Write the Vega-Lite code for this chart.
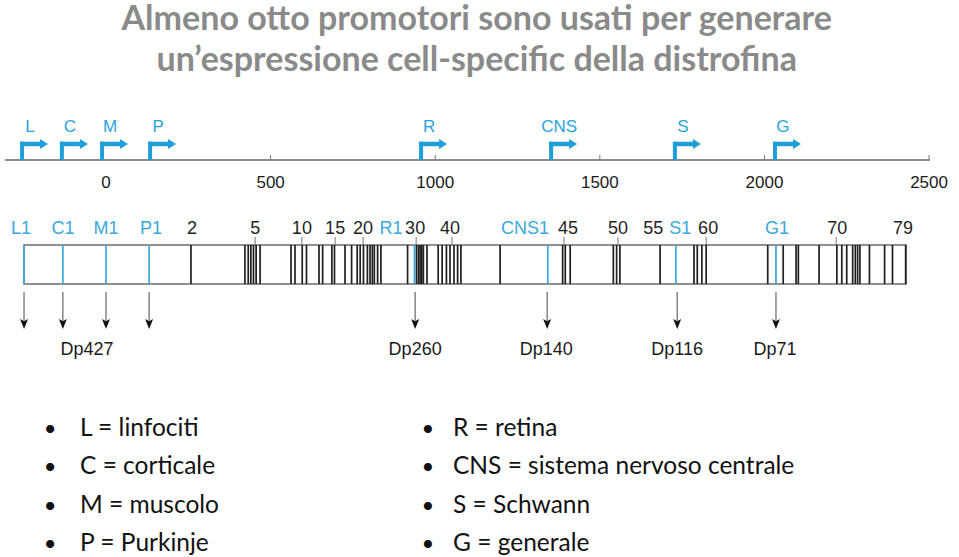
{
  "$schema": "https://vega.github.io/schema/vega-lite/v6.json",
  "width": 959,
  "height": 557,
  "autosize": {"type": "fit", "contains": "padding"},
  "padding": 0,
  "background": "white",
  "config": {"view": {"stroke": null}},
  "layer": [
    {
      "data": {"values": [{"t": "Almeno otto promotori sono usati per generare"}]},
      "mark": {"type": "text", "font": "Lato", "fontWeight": "bold", "fontSize": 34, "color": "#8a8a8a", "align": "center", "baseline": "alphabetic"},
      "encoding": {
        "x": {"datum": 1126, "type": "quantitative", "scale": {"domain": [-322, 2591], "nice": false, "zero": false}, "axis": null},
        "y": {"datum": 5.3, "type": "quantitative", "scale": {"domain": [0, 100], "reverse": true, "nice": false, "zero": false}, "axis": null},
        "text": {"field": "t"}
      }
    },
    {
      "data": {"values": [{"t": "un’espressione cell-specific della distrofina"}]},
      "mark": {"type": "text", "font": "Lato", "fontWeight": "bold", "fontSize": 34, "color": "#8a8a8a", "align": "center", "baseline": "alphabetic"},
      "encoding": {
        "x": {"datum": 1126, "type": "quantitative", "scale": {"domain": [-322, 2591], "nice": false, "zero": false}, "axis": null},
        "y": {"datum": 12.75, "type": "quantitative", "scale": {"domain": [0, 100], "reverse": true, "nice": false, "zero": false}, "axis": null},
        "text": {"field": "t"}
      }
    },
    {
      "data": {"values": [{"start": -307, "end": 2503}]},
      "mark": {"type": "rule", "color": "#666666", "strokeWidth": 1.5},
      "encoding": {
        "x": {"field": "start", "type": "quantitative", "scale": {"domain": [-322, 2591], "nice": false, "zero": false}, "axis": null},
        "x2": {"field": "end"},
        "y": {"datum": 28.72, "type": "quantitative", "scale": {"domain": [0, 100], "reverse": true, "nice": false, "zero": false}, "axis": null}
      }
    },
    {
      "data": {"values": [{"v": 500}, {"v": 1000}, {"v": 1500}, {"v": 2000}, {"v": 2500}]},
      "mark": {"type": "rule", "color": "#777777", "strokeWidth": 1},
      "encoding": {
        "x": {"field": "v", "type": "quantitative", "scale": {"domain": [-322, 2591], "nice": false, "zero": false}, "axis": null},
        "y": {"datum": 27.83, "type": "quantitative", "scale": {"domain": [0, 100], "reverse": true, "nice": false, "zero": false}, "axis": null},
        "y2": {"datum": 28.72}
      }
    },
    {
      "data": {"values": [{"v": 0}, {"v": 500}, {"v": 1000}, {"v": 1500}, {"v": 2000}, {"v": 2500}]},
      "mark": {"type": "text", "font": "Liberation Sans", "fontSize": 17, "color": "#1a1a1a", "align": "center", "baseline": "alphabetic"},
      "encoding": {
        "x": {"field": "v", "type": "quantitative", "scale": {"domain": [-322, 2591], "nice": false, "zero": false}, "axis": null},
        "y": {"datum": 33.75, "type": "quantitative", "scale": {"domain": [0, 100], "reverse": true, "nice": false, "zero": false}, "axis": null},
        "text": {"field": "v", "type": "quantitative", "format": "d"}
      }
    },
    {
      "data": {"values": [{"p": "L", "pos": -255}, {"p": "C", "pos": -134}, {"p": "M", "pos": -12}, {"p": "P", "pos": 134}, {"p": "R", "pos": 957}, {"p": "CNS", "pos": 1352}, {"p": "S", "pos": 1728}, {"p": "G", "pos": 2032}]},
      "layer": [
        {
          "mark": {"type": "rule", "color": "#1e9fd9", "strokeWidth": 4},
          "encoding": {
            "x": {"field": "pos", "type": "quantitative", "scale": {"domain": [-322, 2591], "nice": false, "zero": false}, "axis": null},
            "y": {"datum": 25.45, "type": "quantitative", "scale": {"domain": [0, 100], "reverse": true, "nice": false, "zero": false}, "axis": null},
            "y2": {"datum": 28.72}
          }
        },
        {
          "mark": {"type": "rule", "color": "#1e9fd9", "strokeWidth": 4.5, "xOffset": -2, "x2Offset": 19},
          "encoding": {
            "x": {"field": "pos", "type": "quantitative", "scale": {"domain": [-322, 2591], "nice": false, "zero": false}, "axis": null},
            "x2": {"field": "pos"},
            "y": {"datum": 25.85, "type": "quantitative", "scale": {"domain": [0, 100], "reverse": true, "nice": false, "zero": false}, "axis": null}
          }
        },
        {
          "mark": {"type": "point", "shape": "M-0.8,-1L0.8,0L-0.8,1Z", "filled": true, "color": "#1e9fd9", "opacity": 1, "size": 100, "xOffset": 22, "strokeWidth": 0},
          "encoding": {
            "x": {"field": "pos", "type": "quantitative", "scale": {"domain": [-322, 2591], "nice": false, "zero": false}, "axis": null},
            "y": {"datum": 25.85, "type": "quantitative", "scale": {"domain": [0, 100], "reverse": true, "nice": false, "zero": false}, "axis": null}
          }
        },
        {
          "mark": {"type": "text", "font": "Liberation Sans", "fontSize": 17, "color": "#29a3dc", "align": "center", "baseline": "alphabetic", "xOffset": 8},
          "encoding": {
            "x": {"field": "pos", "type": "quantitative", "scale": {"domain": [-322, 2591], "nice": false, "zero": false}, "axis": null},
            "y": {"datum": 23.7, "type": "quantitative", "scale": {"domain": [0, 100], "reverse": true, "nice": false, "zero": false}, "axis": null},
            "text": {"field": "p"}
          }
        }
      ]
    },
    {
      "data": {"values": [{"v": 453}, {"v": 595}, {"v": 696}, {"v": 781}, {"v": 942}, {"v": 1051}, {"v": 1391}, {"v": 1555}, {"v": 1823}, {"v": 2218}]},
      "mark": {"type": "rule", "color": "#777777", "strokeWidth": 1},
      "encoding": {
        "x": {"field": "v", "type": "quantitative", "scale": {"domain": [-322, 2591], "nice": false, "zero": false}, "axis": null},
        "y": {"datum": 42.55, "type": "quantitative", "scale": {"domain": [0, 100], "reverse": true, "nice": false, "zero": false}, "axis": null},
        "y2": {"datum": 43.98}
      }
    },
    {
      "data": {"values": [{"start": -249, "end": 2430}]},
      "mark": {"type": "rect", "fill": "white", "stroke": "#6b6b6b", "strokeWidth": 1.5},
      "encoding": {
        "x": {"field": "start", "type": "quantitative", "scale": {"domain": [-322, 2591], "nice": false, "zero": false}, "axis": null},
        "x2": {"field": "end"},
        "y": {"datum": 43.98, "type": "quantitative", "scale": {"domain": [0, 100], "reverse": true, "nice": false, "zero": false}, "axis": null},
        "y2": {"datum": 50.99}
      }
    },
    {
      "data": {"values": [
        {"pos": 258, "k": "exon"}, {"pos": 422, "k": "exon"}, {"pos": 432, "k": "exon"}, {"pos": 440, "k": "exon"}, {"pos": 448, "k": "exon"}, {"pos": 456, "k": "exon"}, {"pos": 468, "k": "exon"},
        {"pos": 562, "k": "exon"}, {"pos": 574, "k": "exon"}, {"pos": 596, "k": "exon"}, {"pos": 609, "k": "exon"}, {"pos": 647, "k": "exon"}, {"pos": 658, "k": "exon"}, {"pos": 686, "k": "exon"}, {"pos": 694, "k": "exon"},
        {"pos": 726, "k": "exon"}, {"pos": 746, "k": "exon"}, {"pos": 763, "k": "exon"}, {"pos": 772, "k": "exon"}, {"pos": 782, "k": "exon"}, {"pos": 794, "k": "exon"}, {"pos": 802, "k": "exon"}, {"pos": 809, "k": "exon"}, {"pos": 815, "k": "exon"}, {"pos": 825, "k": "exon"}, {"pos": 835, "k": "exon"},
        {"pos": 916, "k": "exon"}, {"pos": 943, "k": "exon"}, {"pos": 949, "k": "exon"}, {"pos": 954, "k": "exon"}, {"pos": 959, "k": "exon"}, {"pos": 964, "k": "exon"}, {"pos": 975, "k": "exon"},
        {"pos": 1009, "k": "exon"}, {"pos": 1021, "k": "exon"}, {"pos": 1034, "k": "exon"}, {"pos": 1045, "k": "exon"}, {"pos": 1057, "k": "exon"}, {"pos": 1068, "k": "exon"}, {"pos": 1078, "k": "exon"},
        {"pos": 1197, "k": "exon"}, {"pos": 1387, "k": "exon"}, {"pos": 1395, "k": "exon"}, {"pos": 1410, "k": "exon"}, {"pos": 1541, "k": "exon"}, {"pos": 1551, "k": "exon"}, {"pos": 1561, "k": "exon"},
        {"pos": 1683, "k": "exon"}, {"pos": 1786, "k": "exon"}, {"pos": 1796, "k": "exon"}, {"pos": 1810, "k": "exon"}, {"pos": 1823, "k": "exon"},
        {"pos": 2010, "k": "exon"}, {"pos": 2057, "k": "exon"}, {"pos": 2096, "k": "exon"}, {"pos": 2103, "k": "exon"}, {"pos": 2166, "k": "exon"},
        {"pos": 2220, "k": "exon"}, {"pos": 2235, "k": "exon"}, {"pos": 2250, "k": "exon"}, {"pos": 2268, "k": "exon"}, {"pos": 2276, "k": "exon"}, {"pos": 2283, "k": "exon"}, {"pos": 2290, "k": "exon"},
        {"pos": 2319, "k": "exon"}, {"pos": 2365, "k": "exon"}, {"pos": 2389, "k": "exon"}, {"pos": 2429, "k": "exon"},
        {"pos": -249, "k": "first"}, {"pos": -131, "k": "first"}, {"pos": 0, "k": "first"}, {"pos": 131, "k": "first"}, {"pos": 937, "k": "first"}, {"pos": 1342, "k": "first"}, {"pos": 1731, "k": "first"}, {"pos": 2035, "k": "first"}
      ]},
      "mark": {"type": "rule", "strokeWidth": 1.7},
      "encoding": {
        "x": {"field": "pos", "type": "quantitative", "scale": {"domain": [-322, 2591], "nice": false, "zero": false}, "axis": null},
        "y": {"datum": 43.98, "type": "quantitative", "scale": {"domain": [0, 100], "reverse": true, "nice": false, "zero": false}, "axis": null},
        "y2": {"datum": 50.99},
        "color": {"field": "k", "type": "nominal", "scale": {"domain": ["first", "exon"], "range": ["#3aa8dc", "#1f1f1f"]}, "legend": null}
      }
    },
    {
      "data": {"values": [
        {"t": "L1", "pos": -258, "k": "first"}, {"t": "C1", "pos": -131, "k": "first"}, {"t": "M1", "pos": 0, "k": "first"}, {"t": "P1", "pos": 137, "k": "first"},
        {"t": "2", "pos": 261, "k": "exon"}, {"t": "5", "pos": 453, "k": "exon"}, {"t": "10", "pos": 595, "k": "exon"}, {"t": "15", "pos": 696, "k": "exon"}, {"t": "20", "pos": 781, "k": "exon"},
        {"t": "R1", "pos": 866, "k": "first"}, {"t": "30", "pos": 939, "k": "exon"}, {"t": "40", "pos": 1045, "k": "exon"},
        {"t": "CNS1", "pos": 1273, "k": "first"}, {"t": "45", "pos": 1403, "k": "exon"}, {"t": "50", "pos": 1555, "k": "exon"}, {"t": "55", "pos": 1662, "k": "exon"},
        {"t": "S1", "pos": 1744, "k": "first"}, {"t": "60", "pos": 1829, "k": "exon"}, {"t": "G1", "pos": 2038, "k": "first"}, {"t": "70", "pos": 2221, "k": "exon"}, {"t": "79", "pos": 2421, "k": "exon"}
      ]},
      "mark": {"type": "text", "font": "Liberation Sans", "fontSize": 18, "align": "center", "baseline": "alphabetic"},
      "encoding": {
        "x": {"field": "pos", "type": "quantitative", "scale": {"domain": [-322, 2591], "nice": false, "zero": false}, "axis": null},
        "y": {"datum": 42.01, "type": "quantitative", "scale": {"domain": [0, 100], "reverse": true, "nice": false, "zero": false}, "axis": null},
        "text": {"field": "t"},
        "color": {"field": "k", "type": "nominal", "scale": {"domain": ["first", "exon"], "range": ["#29a3dc", "#1a1a1a"]}, "legend": null}
      }
    },
    {
      "data": {"values": [{"pos": -249}, {"pos": -131}, {"pos": 0}, {"pos": 131}, {"pos": 939}, {"pos": 1340}, {"pos": 1735}, {"pos": 2035}]},
      "layer": [
        {
          "mark": {"type": "rule", "color": "#666666", "strokeWidth": 1.2},
          "encoding": {
            "x": {"field": "pos", "type": "quantitative", "scale": {"domain": [-322, 2591], "nice": false, "zero": false}, "axis": null},
            "y": {"datum": 52.42, "type": "quantitative", "scale": {"domain": [0, 100], "reverse": true, "nice": false, "zero": false}, "axis": null},
            "y2": {"datum": 57.63}
          }
        },
        {
          "mark": {"type": "point", "shape": "M-0.8,-1L0,-0.55L0.8,-1L0,1Z", "filled": true, "color": "#111111", "opacity": 1, "size": 100, "strokeWidth": 0},
          "encoding": {
            "x": {"field": "pos", "type": "quantitative", "scale": {"domain": [-322, 2591], "nice": false, "zero": false}, "axis": null},
            "y": {"datum": 58.17, "type": "quantitative", "scale": {"domain": [0, 100], "reverse": true, "nice": false, "zero": false}, "axis": null}
          }
        }
      ]
    },
    {
      "data": {"values": [{"t": "Dp427", "pos": -58}, {"t": "Dp260", "pos": 939}, {"t": "Dp140", "pos": 1337}, {"t": "Dp116", "pos": 1735}, {"t": "Dp71", "pos": 2032}]},
      "mark": {"type": "text", "font": "Liberation Sans", "fontSize": 18, "color": "#1a1a1a", "align": "center", "baseline": "alphabetic"},
      "encoding": {
        "x": {"field": "pos", "type": "quantitative", "scale": {"domain": [-322, 2591], "nice": false, "zero": false}, "axis": null},
        "y": {"datum": 63.73, "type": "quantitative", "scale": {"domain": [0, 100], "reverse": true, "nice": false, "zero": false}, "axis": null},
        "text": {"field": "t"}
      }
    },
    {
      "data": {"values": [{"t": "L = linfociti\nC = corticale\nM = muscolo\nP = Purkinje"}]},
      "mark": {"type": "text", "lineBreak": "\n", "lineHeight": 38.3, "font": "Lato", "fontSize": 24.5, "color": "#111111", "align": "left", "baseline": "alphabetic"},
      "encoding": {
        "x": {"datum": -79, "type": "quantitative", "scale": {"domain": [-322, 2591], "nice": false, "zero": false}, "axis": null},
        "y": {"datum": 78.28, "type": "quantitative", "scale": {"domain": [0, 100], "reverse": true, "nice": false, "zero": false}, "axis": null},
        "text": {"field": "t"}
      }
    },
    {
      "data": {"values": [{"t": "R = retina\nCNS = sistema nervoso centrale\nS = Schwann\nG = generale"}]},
      "mark": {"type": "text", "lineBreak": "\n", "lineHeight": 38.3, "font": "Lato", "fontSize": 24.5, "color": "#111111", "align": "left", "baseline": "alphabetic"},
      "encoding": {
        "x": {"datum": 1054, "type": "quantitative", "scale": {"domain": [-322, 2591], "nice": false, "zero": false}, "axis": null},
        "y": {"datum": 78.28, "type": "quantitative", "scale": {"domain": [0, 100], "reverse": true, "nice": false, "zero": false}, "axis": null},
        "text": {"field": "t"}
      }
    },
    {
      "data": {"values": [{"b": "•\n•\n•\n•", "col": -170}, {"b": "•\n•\n•\n•", "col": 978}]},
      "mark": {"type": "text", "lineBreak": "\n", "lineHeight": 38.3, "font": "Lato", "fontSize": 22, "color": "#111111", "align": "center", "baseline": "alphabetic"},
      "encoding": {
        "x": {"field": "col", "type": "quantitative", "scale": {"domain": [-322, 2591], "nice": false, "zero": false}, "axis": null},
        "y": {"datum": 78.28, "type": "quantitative", "scale": {"domain": [0, 100], "reverse": true, "nice": false, "zero": false}, "axis": null},
        "text": {"field": "b"}
      }
    }
  ]
}
